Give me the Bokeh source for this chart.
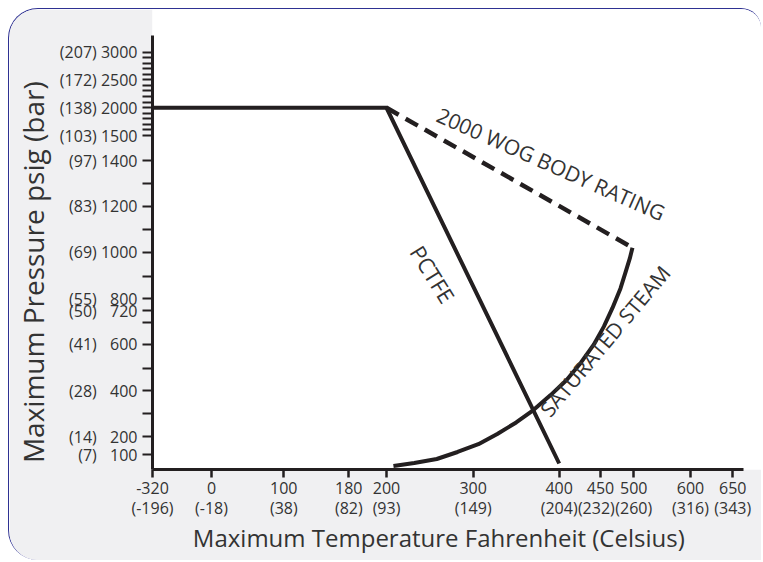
import numpy as np
from bokeh.plotting import figure
from bokeh.models import Range1d, FixedTicker, Label, LinearAxis
from bokeh.embed import file_html
from bokeh.resources import INLINE

# ---------------- data ----------------
temp_f_ticks = [-320, 0, 100, 180, 200, 300, 400, 450, 500, 600, 650]
temp_c_labels = ["(-196)", "(-18)", "(38)", "(82)", "(93)", "(149)",
                 "(204)", "(232)", "(260)", "(316)", "(343)"]
press_psi_ticks = [100, 200, 400, 600, 720, 800, 1000, 1200, 1400, 1500, 2000, 2500, 3000]
press_bar_labels = ["(7)", "(14)", "(28)", "(41)", "(50)", "(55)", "(69)", "(83)",
                    "(97)", "(103)", "(138)", "(172)", "(207)"]
press_minor_ticks = [300, 500, 660, 900, 1100, 1300,
                     1600, 1700, 1800, 1900, 2100, 2200, 2300, 2400,
                     2600, 2700, 2800, 2900]

pctfe_temp = [-320, 200, 400]
pctfe_press = [2000, 2000, 40]
body_temp = [200, 498]
body_press = [2000, 1020]
steam_temp = [208, 232, 258, 282, 306, 328, 350, 370, 390, 409, 426, 442,
              455, 468, 480, 488, 494, 498]
steam_press = [23, 43, 70, 114, 157, 211, 261, 315, 380, 447, 522, 599,
               648, 737, 845, 920, 974, 1020]

x_title = "Maximum Temperature Fahrenheit (Celsius)"
y_title = "Maximum Pressure psig (bar)"

# ---------------- non-linear axis scales (layout) ----------------
x_scale_val = temp_f_ticks
x_scale_pos = [0, 59, 131.3, 196.3, 234, 320.7, 406.7, 448, 481.3, 538, 580.3]
y_scale_val = [0, 100, 200, 300, 400, 500, 600, 660, 720, 800, 900, 1000,
               1100, 1200, 1300, 1400, 1500, 2000, 2500, 3000, 3300]
y_scale_pos = [0, 15, 33, 56, 79, 101.3, 125.3, 147.3, 159, 171, 193.3, 217.3,
               240, 263.3, 286, 308.7, 334, 361.7, 390, 417.3, 433.7]


def to_x(v):
    return [round(float(a), 2) for a in np.interp(v, x_scale_val, x_scale_pos)]


def to_y(v):
    return [round(float(a), 2) for a in np.interp(v, y_scale_val, y_scale_pos)]


INK = "#231f20"
TXT = "#333333"
FONT = "Open Sans"
NBSP = "\u00a0"

# frame origin in page pixels (for placing annotations)
X0, Y0 = 152.5, 469.5


def page(px, py):
    return px - X0, Y0 - py


p = figure(width=753, height=552, output_backend="svg", toolbar_location=None,
           x_range=Range1d(0, 610), y_range=Range1d(0, 460),
           min_border_left=143, min_border_right=0, min_border_top=0,
           min_border_bottom=92)
p.background_fill_color = "white"
p.border_fill_color = "#f0f0f2"
p.outline_line_color = None
p.xgrid.visible = False
p.ygrid.visible = False
p.styles = {"margin-left": "8px", "margin-top": "8px",
            "border-top": "1.5px solid #2e3192",
            "border-left": "1.5px solid #2e3192",
            "border-top-left-radius": "30px",
            "border-top-right-radius": "20px",
            "border-bottom-left-radius": "30px",
            "overflow": "hidden"}

# x axis (Fahrenheit)
xt_pos = to_x(temp_f_ticks)
xa = p.xaxis[0]
xa.ticker = FixedTicker(ticks=xt_pos, minor_ticks=[])
xa.major_label_overrides = {pos: f"{t}" for pos, t in zip(xt_pos, temp_f_ticks)}
xa.bounds = (-11, 591)
xa.axis_line_width = 3
xa.axis_line_color = INK
xa.major_tick_line_width = 2.5
xa.major_tick_line_color = INK
xa.major_tick_in = 0
xa.major_tick_out = 8
xa.minor_tick_line_color = None
xa.major_label_standoff = 4
xa.major_label_text_font = FONT
xa.major_label_text_font_size = "16px"
xa.major_label_text_color = TXT

# second row of x labels (Celsius) + x title
c_text = {pos: c for pos, c in zip(xt_pos, temp_c_labels)}
c_text[xt_pos[temp_f_ticks.index(450)]] += NBSP * 2   # nudge left, as in the original
xc = LinearAxis(ticker=FixedTicker(ticks=xt_pos, minor_ticks=[]),
                major_label_overrides=c_text,
                axis_line_color=None, major_tick_line_color=None,
                minor_tick_line_color=None, major_tick_in=0, major_tick_out=0,
                minor_tick_in=0, minor_tick_out=0, major_label_standoff=0,
                major_label_text_font=FONT, major_label_text_font_size="16px",
                major_label_text_color=TXT,
                axis_label=x_title + NBSP * 6, axis_label_standoff=-1,
                axis_label_text_font=FONT, axis_label_text_font_size="24px",
                axis_label_text_font_style="normal", axis_label_text_color=TXT)
p.add_layout(xc, "below")

# y axis
yt_pos = to_y(press_psi_ticks)
ya = p.yaxis[0]
ya.ticker = FixedTicker(ticks=yt_pos, minor_ticks=to_y(press_minor_ticks))
ya.major_label_overrides = {pos: f"{b} {v:\u2007>4}" for pos, v, b in zip(yt_pos, press_psi_ticks, press_bar_labels)}
ya.bounds = (-8, 433.7)
ya.axis_line_width = 3
ya.axis_line_color = INK
ya.major_tick_line_width = 2
ya.major_tick_line_color = INK
ya.major_tick_in = 0
ya.major_tick_out = 10
ya.minor_tick_line_width = 2
ya.minor_tick_line_color = INK
ya.minor_tick_in = 0
ya.minor_tick_out = 10
ya.major_label_standoff = 5
ya.major_label_text_font = FONT
ya.major_label_text_font_size = "16px"
ya.major_label_text_color = TXT
ya.axis_label = y_title + NBSP * 9
ya.axis_label_standoff = 5
ya.axis_label_text_font = FONT
ya.axis_label_text_font_size = "28px"
ya.axis_label_text_font_style = "normal"
ya.axis_label_text_color = TXT

# data lines
p.line(to_x(pctfe_temp), to_y(pctfe_press), line_width=4, line_color=INK, line_join="miter")
p.line(to_x(body_temp), to_y(body_press), line_width=4.5, line_color=INK, line_dash="14 8")
p.line(to_x(steam_temp), to_y(steam_press), line_width=4, line_color=INK)

# curve labels
for txt, (px, py), ang, fs in [("2000 WOG BODY RATING", (551, 164), -24, "21px"),
                               ("PCTFE", (433, 274), -58, "22px"),
                               ("SATURATED STEAM", (605, 341), 50, "21px")]:
    lx, ly = page(px, py)
    p.add_layout(Label(x=lx, y=ly, text=txt, angle=ang, angle_units="deg",
                       text_align="center", text_baseline="middle",
                       text_font=FONT, text_font_size=fs, text_color=TXT))

open("out.html", "w").write(file_html(p, INLINE))
